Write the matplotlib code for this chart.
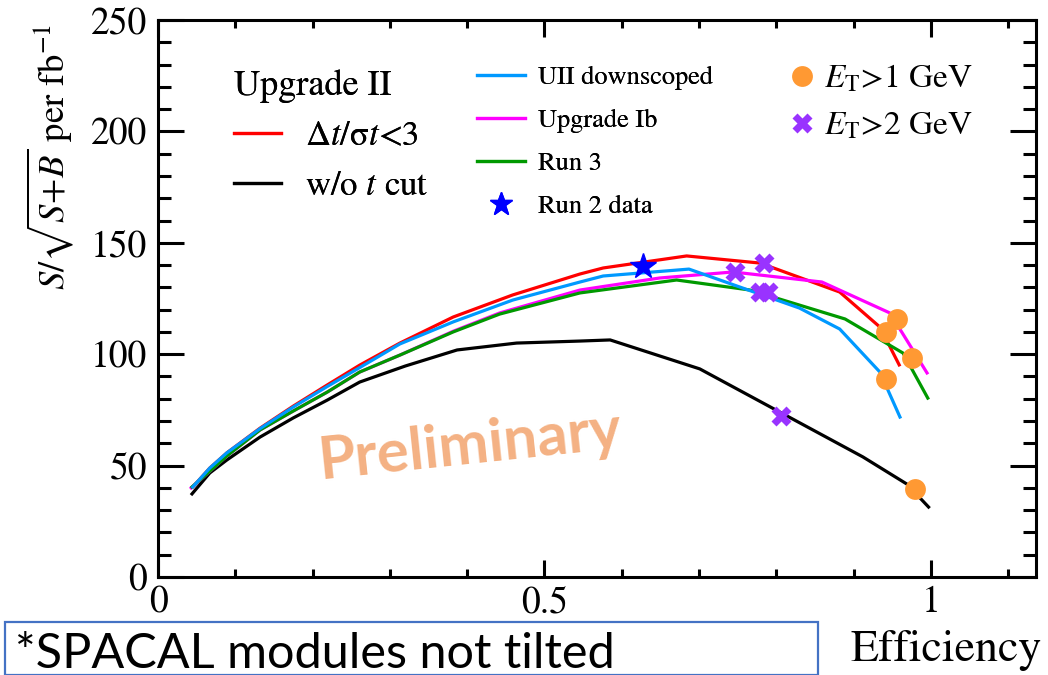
import matplotlib
matplotlib.use("Agg")
import matplotlib.pyplot as plt
from matplotlib.lines import Line2D
from matplotlib.patches import Rectangle
from matplotlib.ticker import MultipleLocator

plt.rcParams['font.family'] = ['STIXGeneral', 'DejaVu Serif']
plt.rcParams['mathtext.fontset'] = 'stix'

# ---- data ----
red_x = [0.045, 0.067, 0.089, 0.132, 0.175, 0.219, 0.261, 0.313, 0.382, 0.459, 0.546, 0.576, 0.684, 0.779, 0.882, 0.934, 0.959]
red_y = [40.4, 48.9, 55.7, 66.8, 76.7, 86.2, 95.1, 105.0, 116.7, 126.6, 136.0, 138.7, 144.1, 140.9, 127.9, 112.2, 95.2]

black_x = [0.044, 0.067, 0.089, 0.132, 0.175, 0.219, 0.261, 0.320, 0.387, 0.464, 0.546, 0.585, 0.701, 0.912, 0.969, 0.997]
black_y = [37.3, 46.7, 52.5, 62.8, 71.4, 79.4, 87.5, 94.7, 101.9, 105.0, 105.9, 106.4, 93.4, 53.9, 41.7, 31.4]

blue_x = [0.045, 0.067, 0.089, 0.132, 0.175, 0.219, 0.261, 0.313, 0.382, 0.459, 0.546, 0.576, 0.687, 0.830, 0.882, 0.934, 0.960]
blue_y = [40.4, 48.9, 55.7, 66.6, 76.3, 85.5, 94.0, 104.6, 114.5, 124.3, 132.4, 135.1, 138.2, 120.7, 111.3, 92.0, 71.8]

magenta_x = [0.043, 0.089, 0.132, 0.175, 0.219, 0.261, 0.313, 0.382, 0.442, 0.546, 0.649, 0.744, 0.859, 0.947, 0.995]
magenta_y = [40.0, 54.3, 66.0, 74.5, 83.0, 92.0, 99.6, 110.3, 118.5, 128.8, 134.2, 136.9, 132.4, 118.5, 91.6]

green_x = [0.044, 0.089, 0.132, 0.175, 0.219, 0.261, 0.313, 0.382, 0.442, 0.546, 0.671, 0.766, 0.889, 0.964, 0.996]
green_y = [40.4, 54.3, 66.0, 74.5, 83.0, 92.0, 99.6, 110.0, 118.0, 127.5, 133.3, 128.8, 115.8, 100.5, 80.3]

run2_x = [0.628]
run2_y = [139.5]

et1_x = [0.956, 0.942, 0.975, 0.942, 0.979]
et1_y = [115.8, 110.0, 98.3, 88.9, 39.5]

et2_x = [0.746, 0.784, 0.779, 0.789, 0.806]
et2_y = [136.9, 140.9, 127.9, 127.9, 72.3]

x_ticks = [0, 0.5, 1]
x_tick_labels = ["0", "0.5", "1"]
y_ticks = [0, 50, 100, 150, 200, 250]

# ---- styles ----
C_RED = '#FF0000'
C_BLACK = '#000000'
C_BLUE = '#0099FF'
C_MAG = '#FF00FF'
C_GREEN = '#009900'
C_STAR = '#0000FF'
C_ORANGE = '#FF9933'
C_PURPLE = '#9933FF'

W, H = 1048, 675
fig = plt.figure(figsize=(W / 100, H / 100), dpi=100)
ax = fig.add_axes([158 / W, 1 - 577 / H, (1036 - 158) / W, (577 - 20) / H])

lw = 2.3
ax.plot(red_x, red_y, color=C_RED, lw=lw)
ax.plot(black_x, black_y, color=C_BLACK, lw=lw)
ax.plot(magenta_x, magenta_y, color=C_MAG, lw=lw)
ax.plot(green_x, green_y, color=C_GREEN, lw=lw)
ax.plot(blue_x, blue_y, color=C_BLUE, lw=lw)
ax.plot(run2_x, run2_y, ls='none', marker='*', ms=19, color=C_STAR)
ax.plot(et2_x, et2_y, ls='none', marker='X', ms=15, color=C_PURPLE, mec='none')
ax.plot(et1_x, et1_y, ls='none', marker='o', ms=15, color=C_ORANGE, mec='none')

ax.set_xlim(0, 1.136)
ax.set_ylim(0, 250)
ax.set_xticks(x_ticks)
ax.set_xticklabels(x_tick_labels)
ax.set_yticks(y_ticks)
ax.xaxis.set_minor_locator(MultipleLocator(0.1))
ax.yaxis.set_minor_locator(MultipleLocator(10))
for s in ax.spines.values():
    s.set_linewidth(2.2)
ax.tick_params(axis='both', which='both', direction='in', top=True, right=True, width=2.2)
ax.tick_params(axis='y', which='major', length=19, labelsize=27, pad=8)
ax.tick_params(axis='y', which='minor', length=9.5)
ax.tick_params(axis='x', which='major', length=12, labelsize=27, pad=6)
ax.tick_params(axis='x', which='minor', length=6)

fig.text(50 / W, 1 - 157 / H, r'$S/\sqrt{S\!+\!B}$ per fb$^{-1}$', rotation=90,
         ha='center', va='center', fontsize=26.5)
fig.text(1042 / W, 1 - 650 / H, 'Efficiency', ha='right', va='center', fontsize=33)

# Preliminary watermark
fig.text(470 / W, 1 - 446 / H, 'Preliminary', ha='center', va='center', fontsize=43,
         color='#F4B183', fontweight='bold', rotation=6, family='Lato')

# legends
leg1 = fig.legend(
    handles=[Line2D([], [], color=C_RED, lw=lw), Line2D([], [], color=C_BLACK, lw=lw)],
    labels=['Δ$t$/σ$t$<3', 'w/o $t$ cut'],
    title='Upgrade II', title_fontsize=26, fontsize=25, alignment='left',
    loc='upper left', bbox_to_anchor=(234 / W, 1 - 69 / H), frameon=False,
    borderpad=0, borderaxespad=0, handlelength=1.35, handletextpad=0.7, labelspacing=0.52)
fig.add_artist(leg1)

leg2 = fig.legend(
    handles=[Line2D([], [], color=C_BLUE, lw=lw), Line2D([], [], color=C_MAG, lw=lw),
             Line2D([], [], color=C_GREEN, lw=lw),
             Line2D([], [], ls='none', marker='*', ms=17, color=C_STAR)],
    labels=['UII downscoped', 'Upgrade Ib', 'Run 3', 'Run 2 data'],
    fontsize=19, loc='upper left', bbox_to_anchor=(477 / W, 1 - 66 / H), frameon=False,
    borderpad=0, borderaxespad=0, handlelength=1.8, handletextpad=0.5, labelspacing=0.7)
fig.add_artist(leg2)

leg3 = fig.legend(
    handles=[Line2D([], [], ls='none', marker='o', ms=15, color=C_ORANGE, mec='none'),
             Line2D([], [], ls='none', marker='X', ms=15, color=C_PURPLE, mec='none')],
    labels=[r'$E_{\mathrm{T}}$>1 GeV', r'$E_{\mathrm{T}}$>2 GeV'],
    fontsize=24, loc='upper left', bbox_to_anchor=(789 / W, 1 - 63 / H), frameon=False,
    borderpad=0, borderaxespad=0, handlelength=0.75, handletextpad=0.3, labelspacing=0.5)

# footnote box
fig.patches.append(Rectangle((5 / W, 0), (818 - 5) / W, (675 - 622) / H,
                             transform=fig.transFigure, fill=False,
                             edgecolor='#4472C4', lw=1.6))
fig.text(15 / W, 1 - 668 / H, '*SPACAL modules not tilted', ha='left', va='baseline',
         fontsize=35, family='Lato', color='#000000')

fig.savefig('out.png', dpi=100)
